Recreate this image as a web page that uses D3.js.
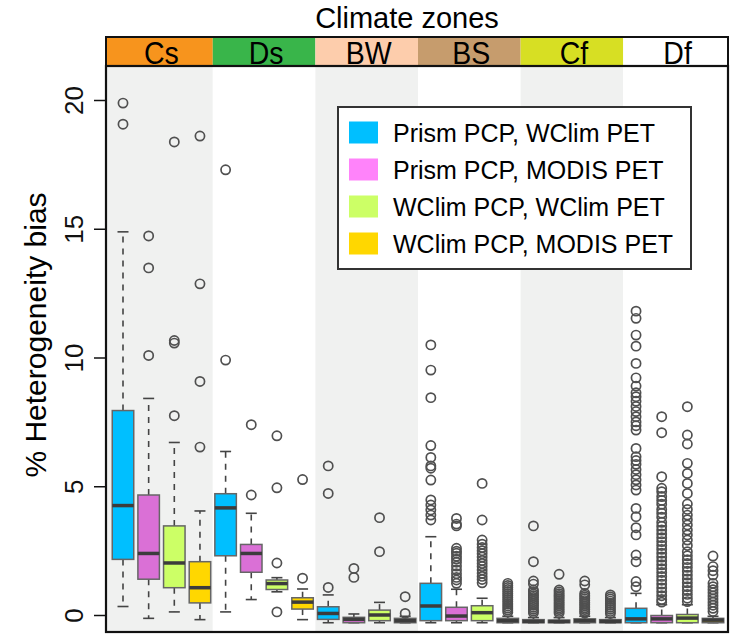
<!DOCTYPE html>
<html><head><meta charset="utf-8">
<script src="https://cdn.jsdelivr.net/npm/d3@7"></script>
<style>body{margin:0;background:#fff} svg{display:block;font-family:"Liberation Sans",Arial,Helvetica,sans-serif}</style>
</head><body><svg id="c" width="731" height="636"></svg>
<script>
// ---- data ----
const zones = ["Cs", "Ds", "BW", "BS", "Cf", "Df"];
const zoneColors = ["#f7941d", "#39b54a", "#fdcdac", "#c69c6d", "#d7df23", "#ffffff"];
const zoneShaded = [true, false, true, false, true, false];
const seriesNames = ["Prism PCP, WClim PET", "Prism PCP, MODIS PET", "WClim PCP, WClim PET", "WClim PCP, MODIS PET"];
const seriesFill = ["#00bfff", "#da70d6", "#ccff66", "#ffd700"];
const legendFill = ["#00bfff", "#ff83fa", "#ccff66", "#ffd700"];
const yTicks = [0, 5, 10, 15, 20];

// [series][zone]
const whiskerLow = [
  [0.33, 0.12, -0.30, -0.30, -0.30, -0.30],
  [-0.13, 0.60, -0.30, -0.30, -0.30, -0.30],
  [0.12, 0.90, -0.30, -0.30, -0.30, -0.30],
  [-0.18, -0.18, -0.30, -0.30, -0.30, -0.30]
];
const q1 = [
  [2.16, 2.30, -0.17, -0.22, -0.30, -0.30],
  [1.39, 1.66, -0.30, -0.22, -0.30, -0.30],
  [1.06, 0.99, -0.22, -0.22, -0.30, -0.30],
  [0.47, 0.23, -0.30, -0.30, -0.30, -0.30]
];
const median = [
  [4.25, 4.16, 0.06, 0.35, -0.25, -0.15],
  [2.39, 2.39, -0.17, -0.04, -0.25, -0.15],
  [2.02, 1.22, 0.00, 0.09, -0.22, -0.12],
  [1.06, 0.50, -0.22, -0.22, -0.25, -0.20]
];
const q3 = [
  [7.94, 4.71, 0.32, 1.23, -0.18, 0.26],
  [4.66, 2.74, -0.09, 0.30, -0.20, -0.02],
  [3.46, 1.36, 0.19, 0.36, -0.15, 0.02],
  [2.07, 0.67, -0.13, -0.13, -0.18, -0.13]
];
const whiskerHigh = [
  [14.88, 6.35, 0.78, 3.04, -0.10, 0.84],
  [8.41, 3.95, 0.04, 1.00, -0.10, 0.40],
  [6.70, 1.45, 0.49, 0.65, -0.05, 0.40],
  [4.04, 1.01, -0.05, -0.05, -0.10, -0.05]
];
const outliers = [
  [
    [19.88, 19.06],
    [17.29, 9.90],
    [5.79, 4.72, 1.07],
    [10.49, 9.51, 8.44, 6.58, 6.12, 5.79, 5.70, 5.24, 4.47, 4.27, 4.08, 3.88, 3.69],
    [3.46, 2.07, 1.32, 1.20, 0.97, 0.90, 0.82, 0.75, 0.68, 0.60, 0.52, 0.45, 0.38, 0.30, 0.22, 0.15, 0.08],
    [11.80, 11.52, 10.87, 10.44, 9.77, 9.21, 8.89, 8.63, 8.48, 8.30, 8.10, 7.90, 7.70, 7.50, 7.35, 7.18, 6.47, 6.15, 6.00, 5.85, 5.65, 5.45, 5.25, 5.05, 4.85, 4.14, 3.82, 3.39, 3.11, 2.33, 2.07, 1.30, 1.10]
  ],
  [
    [14.72, 13.48, 10.08],
    [7.39, 4.66],
    [1.81, 1.46],
    [3.75, 3.53, 3.46, 2.59, 2.48, 2.40, 2.28, 2.17, 2.05, 1.90, 1.75, 1.60, 1.46, 1.36, 1.23],
    [1.58, 0.97, 0.90, 0.83, 0.76, 0.70, 0.63, 0.56, 0.49, 0.42, 0.35, 0.28, 0.21, 0.14, 0.07],
    [7.70, 7.08, 5.37, 4.92, 4.79, 4.60, 4.45, 4.30, 4.10, 3.95, 3.80, 3.60, 3.45, 3.30, 3.15, 3.00, 2.85, 2.70, 2.55, 2.40, 2.25, 2.10, 1.95, 1.80, 1.65, 1.50, 1.35, 1.20, 1.05, 0.90, 0.75, 0.60, 0.50]
  ],
  [
    [18.37, 10.66, 10.56, 7.74],
    [6.96, 4.94, 2.02, 0.12],
    [3.78, 2.46],
    [5.11, 3.69, 2.91, 2.75, 2.62, 2.50, 2.38, 2.25, 2.12, 2.00, 1.88, 1.75, 1.62, 1.50, 1.38, 1.25],
    [1.32, 1.17, 0.84, 0.77, 0.70, 0.63, 0.56, 0.49, 0.42, 0.35, 0.28, 0.21, 0.14, 0.07],
    [8.09, 6.99, 6.64, 5.89, 5.50, 5.11, 4.72, 4.31, 4.10, 3.88, 3.70, 3.50, 3.30, 3.11, 2.91, 2.70, 2.46, 2.30, 2.15, 2.00, 1.85, 1.70, 1.55, 1.40, 1.25, 1.10, 0.95, 0.80, 0.65, 0.52]
  ],
  [
    [18.60, 12.86, 9.07, 6.52],
    [5.26, 1.43],
    [0.71, 0.06],
    [1.23, 1.15, 1.07, 0.99, 0.91, 0.83, 0.75, 0.67, 0.59, 0.51, 0.43, 0.35, 0.27, 0.19, 0.11],
    [0.78, 0.70, 0.62, 0.54, 0.46, 0.38, 0.30, 0.22, 0.14, 0.06],
    [2.29, 1.88, 1.72, 1.55, 1.23, 1.10, 0.98, 0.86, 0.74, 0.62, 0.50, 0.38, 0.26, 0.14]
  ]
];

// ---- layout ----
const svg = d3.select("#c");
const frame = {left: 106, right: 728, top: 66, bottom: 632};
const header = {top: 37, bottom: 66};
const y = d3.scaleLinear().domain([0, 20]).range([615, 100]);
const x = d3.scaleLinear().domain([1, 24]).range([123, 713]);
const boxW = 21.5;
const pos = (s, z) => z * 4 + s + 1;
const bound = k => k === 0 ? frame.left : (k === zones.length ? frame.right : x(4 * k + 0.5));

// shaded zone backgrounds
svg.append("g").selectAll("rect").data(zones).join("rect")
  .attr("x", (d, k) => bound(k)).attr("width", (d, k) => bound(k + 1) - bound(k))
  .attr("y", frame.top).attr("height", frame.bottom - frame.top)
  .attr("fill", (d, k) => zoneShaded[k] ? "#f0f1f0" : "#ffffff");

// header band
const hg = svg.append("g");
hg.selectAll("rect").data(zones).join("rect")
  .attr("x", (d, k) => bound(k)).attr("width", (d, k) => bound(k + 1) - bound(k))
  .attr("y", header.top).attr("height", header.bottom - header.top)
  .attr("fill", (d, k) => zoneColors[k]);
hg.selectAll("text").data(zones).join("text")
  .attr("transform", (d, k) => `translate(${(bound(k) + bound(k + 1)) / 2 + 2},64) scale(0.92,1)`)
  .attr("text-anchor", "middle").attr("font-size", 31).attr("fill", "#000")
  .text(d => d);
hg.append("rect").attr("x", frame.left).attr("y", header.top)
  .attr("width", frame.right - frame.left).attr("height", header.bottom - header.top)
  .attr("fill", "none").attr("stroke", "#111").attr("stroke-width", 2);

svg.append("text").attr("x", 407).attr("y", 28)
  .attr("text-anchor", "middle").attr("font-size", 29).text("Climate zones");

// boxes
const items = [];
for (let s = 0; s < 4; s++) for (let z = 0; z < zones.length; z++) items.push({s, z});
const gb = svg.append("g");
items.forEach(({s, z}) => {
  const cx = x(pos(s, z));
  const g = gb.append("g");
  const lo = whiskerLow[s][z], hi = whiskerHigh[s][z];
  const a = q1[s][z], b = q3[s][z], m = median[s][z];
  // whiskers
  g.append("line").attr("x1", cx).attr("x2", cx).attr("y1", y(b)).attr("y2", y(Math.max(hi, b)))
    .attr("stroke", "#444").attr("stroke-width", 1.6).attr("stroke-dasharray", "6,6");
  g.append("line").attr("x1", cx).attr("x2", cx).attr("y1", y(a)).attr("y2", y(Math.min(lo, a)))
    .attr("stroke", "#444").attr("stroke-width", 1.6).attr("stroke-dasharray", "6,6");
  [hi, lo].forEach(v => g.append("line").attr("x1", cx - 5.5).attr("x2", cx + 5.5)
    .attr("y1", y(v)).attr("y2", y(v)).attr("stroke", "#444").attr("stroke-width", 1.6));
  // box
  g.append("rect").attr("x", cx - boxW / 2).attr("width", boxW)
    .attr("y", y(b)).attr("height", Math.max(y(a) - y(b), 1))
    .attr("fill", seriesFill[s]).attr("stroke", "#666").attr("stroke-width", 1.5);
  g.append("line").attr("x1", cx - boxW / 2).attr("x2", cx + boxW / 2)
    .attr("y1", y(m)).attr("y2", y(m)).attr("stroke", "#3c3c3c").attr("stroke-width", 3.5);
  // outliers
  g.selectAll("circle").data(outliers[s][z]).join("circle")
    .attr("cx", cx).attr("cy", d => y(d)).attr("r", 4.6)
    .attr("fill", "none").attr("stroke", "#505050").attr("stroke-width", 1.7);
});

// frame
svg.append("rect").attr("x", frame.left).attr("y", frame.top)
  .attr("width", frame.right - frame.left).attr("height", frame.bottom - frame.top)
  .attr("fill", "none").attr("stroke", "#111").attr("stroke-width", 2.2);

// y axis
const yAxis = d3.axisLeft(y).tickValues(yTicks).tickSize(12).tickFormat(d3.format("d"));
const ga = svg.append("g").attr("transform", `translate(${frame.left},0)`).call(yAxis);
ga.select(".domain").remove();
ga.selectAll(".tick line").attr("stroke", "#111").attr("stroke-width", 1.5);
ga.selectAll(".tick text").attr("font-size", 26).attr("fill", "#111")
  .attr("x", 0).attr("dy", 0).attr("text-anchor", "middle")
  .attr("transform", "translate(-23,0) rotate(-90)");

svg.append("text").attr("transform", "translate(46,335) rotate(-90)")
  .attr("text-anchor", "middle").attr("font-size", 30).text("% Heterogeneity bias");

// legend
const lg = svg.append("g");
lg.append("rect").attr("x", 338).attr("y", 107).attr("width", 353).attr("height", 162)
  .attr("fill", "#fff").attr("stroke", "#333").attr("stroke-width", 2);
const rowY = d3.scalePoint().domain(seriesNames).range([132.5, 243.5]);
lg.selectAll(".sw").data(seriesNames).join("rect").attr("class", "sw")
  .attr("x", 349).attr("width", 29).attr("y", d => rowY(d) - 11).attr("height", 22)
  .attr("fill", (d, i) => legendFill[i]);
lg.selectAll("text").data(seriesNames).join("text")
  .attr("x", 393).attr("y", d => rowY(d) + 9).attr("font-size", 25).text(d => d);
</script></body></html>
